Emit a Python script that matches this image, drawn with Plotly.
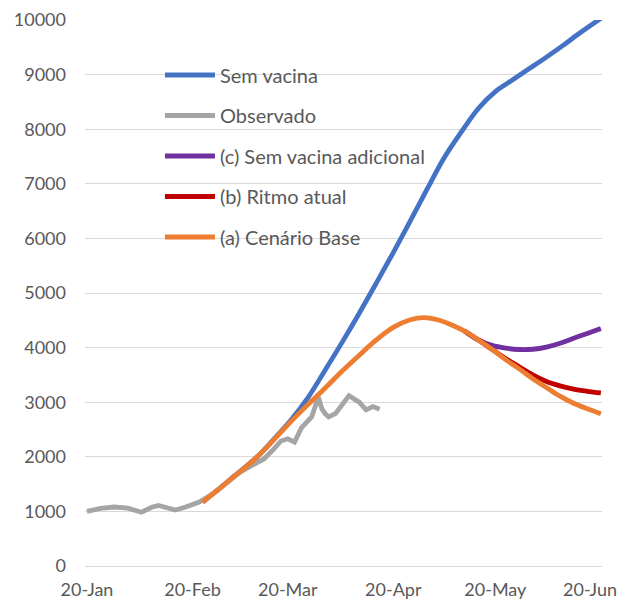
import plotly.graph_objects as go

# ---------------- data ----------------
obs_dates = ["2021-01-20", "2021-01-24", "2021-01-28", "2021-02-01", "2021-02-05", "2021-02-08",
             "2021-02-10", "2021-02-13", "2021-02-15", "2021-02-18", "2021-02-20", "2021-02-22",
             "2021-02-26", "2021-03-02", "2021-03-06", "2021-03-10", "2021-03-13", "2021-03-16",
             "2021-03-18", "2021-03-20", "2021-03-22", "2021-03-24", "2021-03-27", "2021-03-29",
             "2021-03-30", "2021-03-31", "2021-04-01", "2021-04-03", "2021-04-05", "2021-04-07",
             "2021-04-10", "2021-04-12", "2021-04-14", "2021-04-16"]
obs_values = [1000, 1055, 1080, 1060, 985, 1075,
              1110, 1060, 1025, 1080, 1130, 1170,
              1320, 1520, 1720, 1860, 1960, 2150,
              2290, 2330, 2270, 2530, 2730, 3090,
              2880, 2790, 2730, 2790, 2960, 3120,
              3000, 2860, 2920, 2870]

base_dates = ["2021-02-23", "2021-02-27", "2021-03-03", "2021-03-07", "2021-03-11", "2021-03-16",
              "2021-03-21", "2021-03-26", "2021-03-31", "2021-04-05", "2021-04-10", "2021-04-15",
              "2021-04-20", "2021-04-25", "2021-04-29", "2021-05-03", "2021-05-07", "2021-05-11",
              "2021-05-15", "2021-05-19", "2021-05-23", "2021-05-27", "2021-05-31", "2021-06-04",
              "2021-06-08", "2021-06-12", "2021-06-16", "2021-06-20"]
base_values = [1170, 1370, 1580, 1780, 2000, 2320,
               2650, 2960, 3260, 3570, 3860, 4140,
               4370, 4510, 4550, 4510, 4420, 4300,
               4140, 3970, 3780, 3610, 3430, 3270,
               3110, 2980, 2880, 2790]

novac_dates = ["2021-02-23", "2021-03-03", "2021-03-11", "2021-03-16", "2021-03-21", "2021-03-26",
               "2021-03-31", "2021-04-05", "2021-04-10", "2021-04-15", "2021-04-20", "2021-04-25",
               "2021-04-30", "2021-05-05", "2021-05-10", "2021-05-15", "2021-05-20", "2021-05-25",
               "2021-05-30", "2021-06-04", "2021-06-09", "2021-06-14", "2021-06-20"]
novac_values = [1170, 1580, 2000, 2330, 2680, 3090,
                3590, 4100, 4630, 5180, 5740, 6320,
                6910, 7480, 7950, 8380, 8690, 8900,
                9110, 9320, 9540, 9770, 10030]

tail_dates = ["2021-05-11", "2021-05-15", "2021-05-19", "2021-05-23", "2021-05-27", "2021-05-31",
              "2021-06-04", "2021-06-08", "2021-06-12", "2021-06-16", "2021-06-20"]
ritmo_values = [4300, 4140, 3970, 3800, 3650, 3500, 3380, 3300, 3240, 3200, 3170]
semvac_adic_values = [4300, 4140, 4040, 3990, 3965, 3970, 4010, 4080, 4170, 4260, 4350]

tick_dates = ["2021-01-20", "2021-02-20", "2021-03-20", "2021-04-20", "2021-05-20", "2021-06-20"]
tick_labels = ["20-Jan", "20-Feb", "20-Mar", "20-Apr", "20-May", "20-Jun"]
y_ticks = list(range(0, 10001, 1000))
y_labels = [str(v) for v in y_ticks]

# ---------------- figure ----------------
FONT = "Lato, 'Liberation Sans', sans-serif"
TXT = "#595959"
LW = 4.8

series = [
    ("Sem vacina", novac_dates, novac_values, "#4472C4", "spline"),
    ("Observado", obs_dates, obs_values, "#A5A5A5", "linear"),
    ("(c) Sem vacina adicional", tail_dates, semvac_adic_values, "#7030A0", "spline"),
    ("(b) Ritmo atual", tail_dates, ritmo_values, "#C00000", "spline"),
    ("(a) Cenário Base", base_dates, base_values, "#ED7D31", "spline"),
]

fig = go.Figure()
for i, (name, xs, ys, col, shape) in enumerate(series):
    fig.add_trace(go.Scatter(
        x=xs, y=ys, name=name, mode="lines",
        line=dict(color=col, width=LW, shape=shape),
        legendgroup=f"g{i}",
    ))

# last date label is drawn right-aligned so it stays inside the page (as in the reference)
x_ticktext = tick_labels[:-1] + [""]
fig.add_annotation(
    x=tick_dates[-1], y=0, xref="x", yref="y",
    text=tick_labels[-1], showarrow=False,
    xanchor="right", yanchor="top", xshift=18, yshift=-10,
    font=dict(family=FONT, size=18, color=TXT),
)

fig.update_layout(
    width=620, height=604,
    margin=dict(l=85, r=18, t=20, b=38, autoexpand=False),
    paper_bgcolor="white", plot_bgcolor="white",
    font=dict(family=FONT, size=18, color=TXT),
    showlegend=True,
    legend=dict(
        x=0.145, y=0.935, xanchor="left", yanchor="top",
        bgcolor="rgba(0,0,0,0)", font=dict(size=20, color=TXT),
        tracegroupgap=11.5, itemwidth=50,
    ),
    xaxis=dict(
        range=["2021-01-19 10:00", "2021-06-20 08:00"],
        tickmode="array", tickvals=tick_dates, ticktext=x_ticktext,
        showgrid=False, zeroline=False, showline=False,
        ticks="", ticklabelstandoff=11, ticklabeloverflow="allow",
        tickfont=dict(size=18, color=TXT),
    ),
    yaxis=dict(
        range=[0, 10000], tickmode="array", tickvals=y_ticks, ticktext=y_labels,
        showgrid=True, gridcolor="#D9D9D9", gridwidth=1.3,
        zeroline=True, zerolinecolor="#D9D9D9", zerolinewidth=1.3,
        showline=False, ticks="", ticklabelstandoff=18,
        tickfont=dict(size=18, color=TXT),
    ),
)

fig.write_html("out.html", config={"displayModeBar": False},
               post_script="document.body.style.margin='0px';document.body.style.padding='0px';")
